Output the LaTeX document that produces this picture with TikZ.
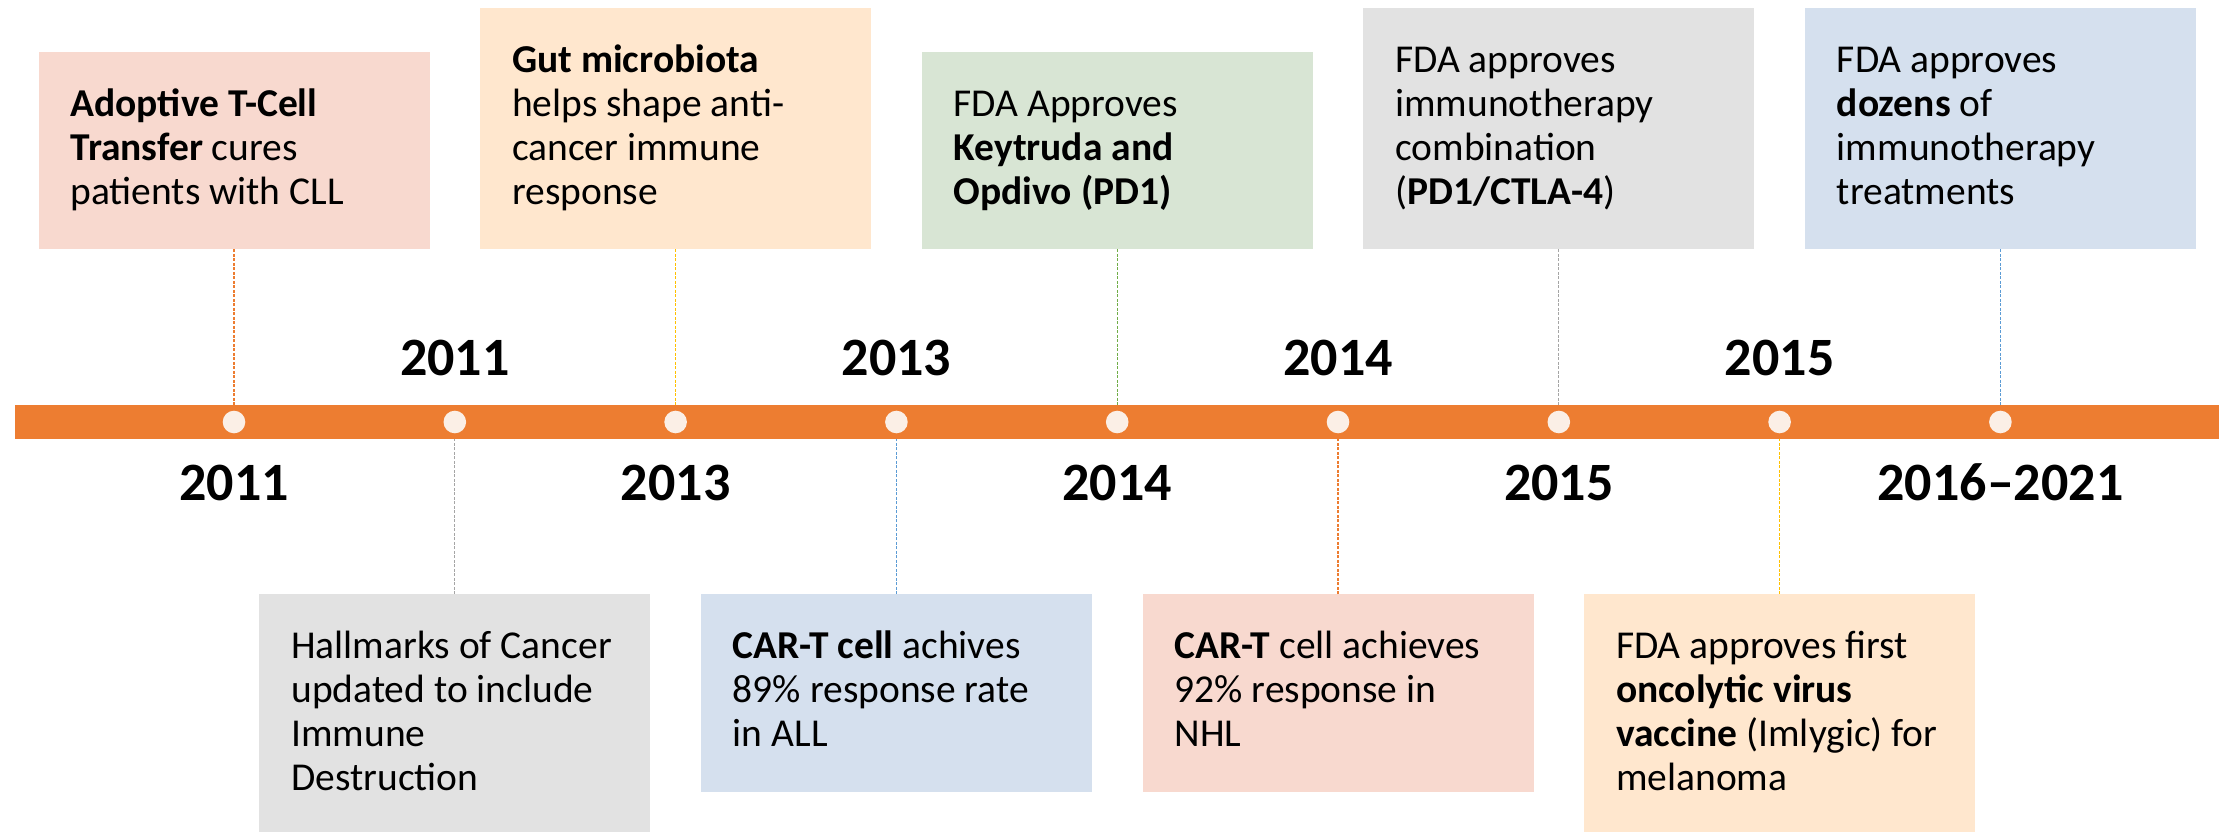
\documentclass[tikz,border=0pt]{standalone}
\usepackage{fontspec}
\setmainfont{Carlito}
\usetikzlibrary{calc}

\definecolor{barorange}{HTML}{ED7D31}
\definecolor{dotfill}{HTML}{FBEFE6}
\definecolor{pinkbox}{HTML}{F8D9CF}
\definecolor{peachbox}{HTML}{FFE7CE}
\definecolor{greenbox}{HTML}{D8E5D4}
\definecolor{graybox}{HTML}{E2E2E2}
\definecolor{bluebox}{HTML}{D5E0EE}
\definecolor{lnorange}{HTML}{ED7D31}
\definecolor{lngold}{HTML}{FFC000}
\definecolor{lngreen}{HTML}{70AD47}
\definecolor{lngray}{HTML}{A5A5A5}
\definecolor{lnblue}{HTML}{5B9BD5}

\newcommand{\evlines}[1]{\begin{tabular}[t]{@{}l@{}}#1\end{tabular}}

\begin{document}
\begin{tikzpicture}[x=1pt, y=-1pt,
  evbox/.style={rectangle, inner sep=0pt, minimum width=391pt},
  evtext/.style={anchor=base west, inner sep=0pt, font=\fontsize{39.5}{44}\selectfont},
  yearlbl/.style={anchor=base, inner sep=0pt, font=\fontsize{54}{60}\selectfont\bfseries},
  dotmark/.style={circle, fill=dotfill, inner sep=0pt, minimum size=22.6pt},
  conn/.style={line width=1.3pt, dash pattern=on 3pt off 1.5pt}
]
\useasboundingbox (0,0) rectangle (2223,832);

% timeline bar
\node[fill=barorange, inner sep=0pt, minimum width=2204pt, minimum height=34pt, anchor=west] (bar) at (14.6,422) {};

% event markers on the bar
\foreach \i in {1,...,9} {
  \node[dotmark] (d\i) at ({234+220.8*(\i-1)},422) {};
}

% upper event boxes
\node[evbox, fill=pinkbox,  minimum height=197pt, anchor=south] (b1) at (d1 |- 0,249.3) {};
\node[evbox, fill=peachbox, minimum height=241pt, anchor=south] (b2) at (d3 |- 0,249.3) {};
\node[evbox, fill=greenbox, minimum height=197pt, anchor=south] (b3) at (d5 |- 0,249.3) {};
\node[evbox, fill=graybox,  minimum height=241pt, anchor=south] (b4) at (d7 |- 0,249.3) {};
\node[evbox, fill=bluebox,  minimum height=241pt, anchor=south] (b5) at (d9 |- 0,249.3) {};

% lower event boxes
\node[evbox, fill=graybox,  minimum height=238pt, anchor=north] (b6) at (d2 |- 0,594) {};
\node[evbox, fill=bluebox,  minimum height=197.7pt, anchor=north] (b7) at (d4 |- 0,594) {};
\node[evbox, fill=pinkbox,  minimum height=197.7pt, anchor=north] (b8) at (d6 |- 0,594) {};
\node[evbox, fill=peachbox, minimum height=238pt, anchor=north] (b9) at (d8 |- 0,594) {};

% box texts
\node[evtext] (t1) at ($(b1.north west)+(32,65)$) {\evlines{\textbf{Adoptive T-Cell}\\ \textbf{Transfer} cures\\ patients with CLL}};
\node[evtext] (t2) at ($(b2.north west)+(32,65)$) {\evlines{\textbf{Gut microbiota}\\ helps shape anti-\\ cancer immune\\ response}};
\node[evtext] (t3) at ($(b3.north west)+(32,65)$) {\evlines{FDA Approves\\ \textbf{Keytruda and}\\ \textbf{Opdivo (PD1)}}};
\node[evtext] (t4) at ($(b4.north west)+(32,65)$) {\evlines{FDA approves\\ immunotherapy\\ combination\\ (\textbf{PD1/CTLA-4})}};
\node[evtext] (t5) at ($(b5.north west)+(32,65)$) {\evlines{FDA approves\\ \textbf{dozens} of\\ immunotherapy\\ treatments}};
\node[evtext] (t6) at ($(b6.north west)+(32,64)$) {\evlines{Hallmarks of Cancer\\ updated to include\\ Immune\\ Destruction}};
\node[evtext] (t7) at ($(b7.north west)+(32,64)$) {\evlines{\textbf{CAR-T cell} achives\\ 89\% response rate\\ in ALL}};
\node[evtext] (t8) at ($(b8.north west)+(32,64)$) {\evlines{\textbf{CAR-T} cell achieves\\ 92\% response in\\ NHL}};
\node[evtext] (t9) at ($(b9.north west)+(32,64)$) {\evlines{FDA approves first\\ \textbf{oncolytic virus}\\ \textbf{vaccine} (Imlygic) for\\ melanoma}};

% connectors from boxes to the bar
\draw[conn, draw=lnorange] (b1.south) -- (b1.south |- bar.north);
\draw[conn, draw=lngold]   (b2.south) -- (b2.south |- bar.north);
\draw[conn, draw=lngreen]  (b3.south) -- (b3.south |- bar.north);
\draw[conn, draw=lngray]   (b4.south) -- (b4.south |- bar.north);
\draw[conn, draw=lnblue]   (b5.south) -- (b5.south |- bar.north);
\draw[conn, draw=lngray]   (b6.north) -- (b6.north |- bar.south);
\draw[conn, draw=lnblue]   (b7.north) -- (b7.north |- bar.south);
\draw[conn, draw=lnorange] (b8.north) -- (b8.north |- bar.south);
\draw[conn, draw=lngold]   (b9.north) -- (b9.north |- bar.south);

% year labels above the bar
\node[yearlbl] (ya2) at (d2 |- 0,375.6) {2011};
\node[yearlbl] (ya4) at (d4 |- 0,375.6) {2013};
\node[yearlbl] (ya6) at (d6 |- 0,375.6) {2014};
\node[yearlbl] (ya8) at (d8 |- 0,375.6) {2015};

% year labels below the bar
\node[yearlbl] (yb1) at (d1 |- 0,500.5) {2011};
\node[yearlbl] (yb3) at (d3 |- 0,500.5) {2013};
\node[yearlbl] (yb5) at (d5 |- 0,500.5) {2014};
\node[yearlbl] (yb7) at (d7 |- 0,500.5) {2015};
\node[yearlbl] (yb9) at (d9 |- 0,500.5) {2016--2021};
\end{tikzpicture}
\end{document}
